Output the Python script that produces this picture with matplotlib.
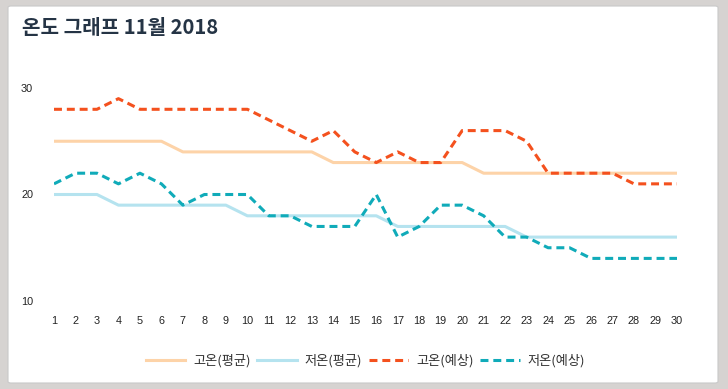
import matplotlib.pyplot as plt
from matplotlib.patches import FancyBboxPatch

plt.rcParams['font.family'] = ['Noto Sans CJK KR', 'DejaVu Sans']

# data
days = list(range(1, 31))
high_avg = [25, 25, 25, 25, 25, 25, 24, 24, 24, 24, 24, 24, 24, 23, 23,
            23, 23, 23, 23, 23, 22, 22, 22, 22, 22, 22, 22, 22, 22, 22]
low_avg = [20, 20, 20, 19, 19, 19, 19, 19, 19, 18, 18, 18, 18, 18, 18,
           18, 17, 17, 17, 17, 17, 17, 16, 16, 16, 16, 16, 16, 16, 16]
high_fc = [28, 28, 28, 29, 28, 28, 28, 28, 28, 28, 27, 26, 25, 26, 24,
           23, 24, 23, 23, 26, 26, 26, 25, 22, 22, 22, 22, 21, 21, 21]
low_fc = [21, 22, 22, 21, 22, 21, 19, 20, 20, 20, 18, 18, 17, 17, 17,
          20, 16, 17, 19, 19, 18, 16, 16, 15, 15, 14, 14, 14, 14, 14]
labels = ['고온(평균)', '저온(평균)', '고온(예상)', '저온(예상)']
yticks = [10, 20, 30]

W, H = 728, 389
fig = plt.figure(figsize=(W / 100, H / 100), dpi=100)
fig.patch.set_facecolor('#d6d3d1')

# white card
card = FancyBboxPatch((8 / W, 6 / H), 710 / W, 377 / H,
                      boxstyle='round,pad=0,rounding_size=0.004',
                      transform=fig.transFigure, facecolor='white',
                      edgecolor='#c9c9c9', linewidth=0.8, zorder=-5)
fig.patches.append(card)

fig.text(22 / W, 1 - 27 / H, '온도 그래프 11월 2018', fontsize=14.5,
         fontweight='bold', color='#253445', va='center', ha='left')

ax = fig.add_axes([54 / W, (H - 301) / H, 623 / W, 213 / H])
ax.set_facecolor('none')

dash = (0, (2.6, 1.6))
ax.plot(days, high_avg, color='#fdd3a8', lw=2.2, label=labels[0])
ax.plot(days, low_avg, color='#b5e3ef', lw=2.2, label=labels[1])
ax.plot(days, high_fc, color='#f4511e', lw=2.2, ls=dash, label=labels[2])
ax.plot(days, low_fc, color='#10abb9', lw=2.2, ls=dash, label=labels[3])

ax.set_xlim(1, 30)
ax.set_ylim(10, 30)
ax.set_xticks(days)
ax.set_yticks(yticks)
ax.tick_params(length=0, labelsize=7.8, colors='#222222')
ax.tick_params(axis='y', pad=15)
ax.tick_params(axis='x', pad=11)
for lab in ax.get_xticklabels() + ax.get_yticklabels():
    lab.set_family(['Liberation Sans', 'DejaVu Sans'])
for s in ax.spines.values():
    s.set_visible(False)

ax.legend(loc='center', bbox_to_anchor=(0.5, (H - 361 - (H - 301)) / 213),
          ncol=4, frameon=False, fontsize=9.5, handlelength=3.0,
          handletextpad=0.6, columnspacing=0.5, labelcolor='#333333')

fig.savefig('out.png', dpi=100, facecolor=fig.get_facecolor())
